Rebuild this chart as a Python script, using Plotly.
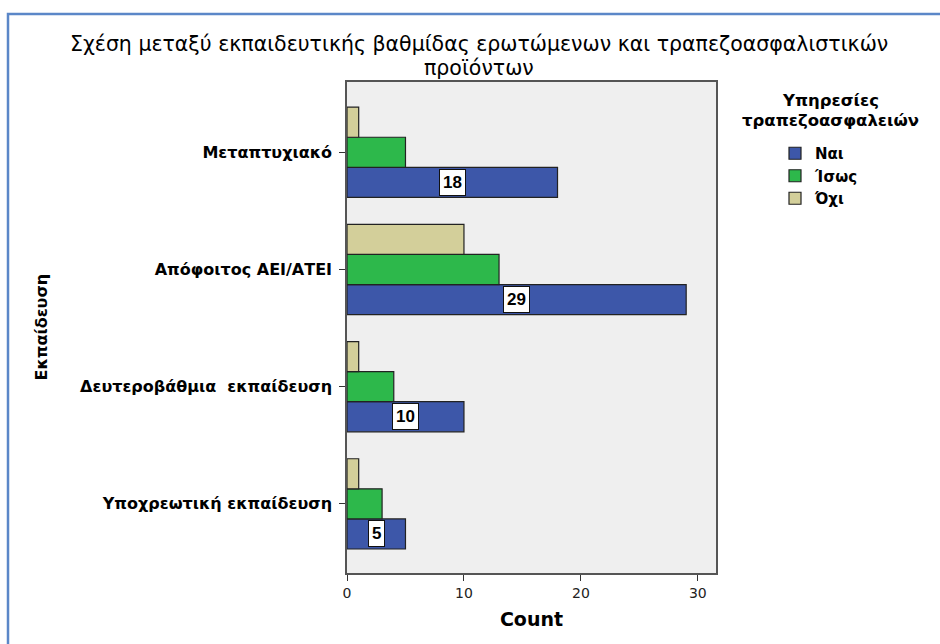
import plotly.graph_objects as go

categories = ["Υποχρεωτική εκπαίδευση", "Δευτεροβάθμια  εκπαίδευση", "Απόφοιτος ΑΕΙ/ΑΤΕΙ", "Μεταπτυχιακό"]
series_names = ["Ναι", "Ίσως", "Όχι"]
nai = [5, 10, 29, 18]
isos = [3, 4, 13, 5]
oxi = [1, 1, 10, 1]
x_ticks = [0, 10, 20, 30]
title_lines = ["Σχέση μεταξύ εκπαιδευτικής βαθμίδας ερωτώμενων και τραπεζοασφαλιστικών", "προϊόντων"]
legend_title_lines = ["Υπηρεσίες", "τραπεζοασφαλειών"]

values = [nai, isos, oxi]
colors = ["#3D57A9", "#2DB84B", "#D3CF9A"]
bargap = 0.23

L, R, T, B = 347, 716, 82, 573
PW, PH = R - L, B - T


def px(xp):
    return (xp - L) / PW


def py(yp):
    return (B - yp) / PH


ypos = list(range(len(categories)))
fig = go.Figure()
for name, vals, col in zip(series_names, values, colors):
    fig.add_trace(go.Bar(
        y=ypos, x=vals, name=name, orientation="h",
        marker=dict(color=col, line=dict(color="#222222", width=1.2)),
        hoverinfo="x+name",
    ))

bw = (1 - bargap) / 3
annotations = []
for i, v in enumerate(nai):
    annotations.append(dict(
        x=v / 2, y=ypos[i] - bw, xref="x", yref="y", text="<b>%d</b>" % v,
        showarrow=False, bgcolor="white", bordercolor="#111111", borderwidth=1,
        borderpad=3, font=dict(family="Liberation Sans, Arial", size=17, color="black"),
    ))
annotations.append(dict(
    text="<b>Εκπαίδευση</b>", textangle=-90, xref="paper", yref="paper",
    x=px(41), y=0.5, xanchor="center", yanchor="middle", showarrow=False,
    font=dict(family="DejaVu Sans, Verdana", size=16, color="black"),
))
for k, (line, yp) in enumerate(zip(title_lines, [44, 68])):
    annotations.append(dict(
        text=line, xref="paper", yref="paper", x=px(479), y=py(yp),
        xanchor="center", yanchor="middle", showarrow=False,
        font=dict(family="DejaVu Sans, Verdana", size=20.5, color="black"),
    ))
for line, yp in zip(legend_title_lines, [100, 120]):
    annotations.append(dict(
        text="<b>%s</b>" % line, xref="paper", yref="paper", x=px(830), y=py(yp),
        xanchor="center", yanchor="middle", showarrow=False,
        font=dict(family="DejaVu Sans, Verdana", size=16.5, color="black"),
    ))

# outer blue frame
shapes = [dict(type="rect", xref="paper", yref="paper",
               x0=px(8), x1=px(1000), y0=py(700), y1=py(14),
               line=dict(color="#5B87C8", width=2.5), fillcolor="rgba(0,0,0,0)", layer="below")]

fig.update_layout(
    width=940, height=644,
    margin=dict(l=L, r=940 - R, t=T, b=644 - B),
    paper_bgcolor="white", plot_bgcolor="#EFEFEF",
    barmode="group", bargap=bargap, bargroupgap=0,
    xaxis=dict(range=[0, 31.55], tickvals=x_ticks, ticks="outside", ticklen=6, tickcolor="#333",
               showgrid=False, zeroline=False, showline=True, linecolor="#555", linewidth=1.5, mirror=True,
               tickfont=dict(family="DejaVu Sans, Verdana", size=14, color="#222"),
               title=dict(text="<b>Count</b>", standoff=13,
                          font=dict(family="DejaVu Sans, Verdana", size=19, color="black"))),
    yaxis=dict(range=[-0.59, 3.6], tickvals=ypos, ticktext=["<b>%s</b>" % c for c in categories],
               ticks="outside", ticklen=6, tickcolor="#333", ticklabelstandoff=4,
               showgrid=False, zeroline=False, showline=True, linecolor="#555", linewidth=1.5, mirror=True,
               tickfont=dict(family="DejaVu Sans, Verdana", size=16, color="black")),
    legend=dict(x=px(775), xanchor="left", y=py(137), yanchor="top",
                font=dict(family="DejaVu Sans, Verdana", size=15, color="black", weight="bold"),
                traceorder="normal", tracegroupgap=0, bgcolor="rgba(0,0,0,0)"),
    annotations=annotations, shapes=shapes,
    showlegend=True,
)

fig.write_html("out.html")
